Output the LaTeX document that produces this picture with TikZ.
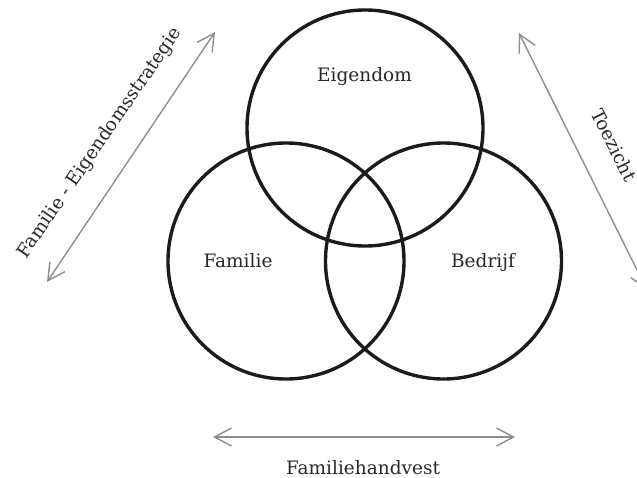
\documentclass[tikz,border=0pt]{standalone}
\usepackage{fontspec}
\setmainfont{DejaVu Serif}
\usetikzlibrary{arrows.meta}
\definecolor{ringcol}{HTML}{1C1A1A}
\definecolor{arrcol}{HTML}{8E8E8E}
\definecolor{txtcol}{HTML}{2A2828}
\begin{document}
\begin{tikzpicture}[x=1pt,y=-1pt,
  ring/.style={draw=ringcol,line width=3.4pt,circle,minimum size=236pt,inner sep=0pt},
  lbl/.style={font=\fontsize{18.5}{22}\selectfont,text=txtcol,inner sep=0pt},
  relarrow/.style={draw=arrcol,line width=1.4pt,{Straight Barb[length=17pt,width=18pt]}-{Straight Barb[length=17pt,width=18pt]}}]
\useasboundingbox (0,0) rectangle (637,477);
\clip (0,0) rectangle (637,477);
% circles
\node[ring] (own) at (365,128) {};
\node[ring] (fam) at (286,261) {};
\node[ring] (bus) at (443.5,261) {};
% labels in circles
\node[lbl,anchor=base] (townl) at (364.5,81) {Eigendom};
\node[lbl,anchor=base] (tfam) at (238,267.3) {Familie};
\node[lbl,anchor=base] (tbus) at (483,267.3) {Bedrijf};
% arrows
\coordinate (la) at (47,282);
\coordinate (lb) at (215,32);
\coordinate (ra) at (519,33);
\coordinate (rb) at (647,290);
\coordinate (ba) at (213,437);
\coordinate (bb) at (515,437);
\draw[relarrow] (la) -- (lb);
\draw[relarrow] (ra) -- (rb);
\draw[relarrow] (ba) -- (bb);
% arrow labels
\node[lbl,rotate=55.5] (tleft) at (100,143) {Familie - Eigendomsstrategie};
\node[lbl,rotate=-63.5] (tright) at (614,145) {Toezicht};
\node[lbl,anchor=base] (tbottom) at (363,474) {Familiehandvest};
\end{tikzpicture}
\end{document}
